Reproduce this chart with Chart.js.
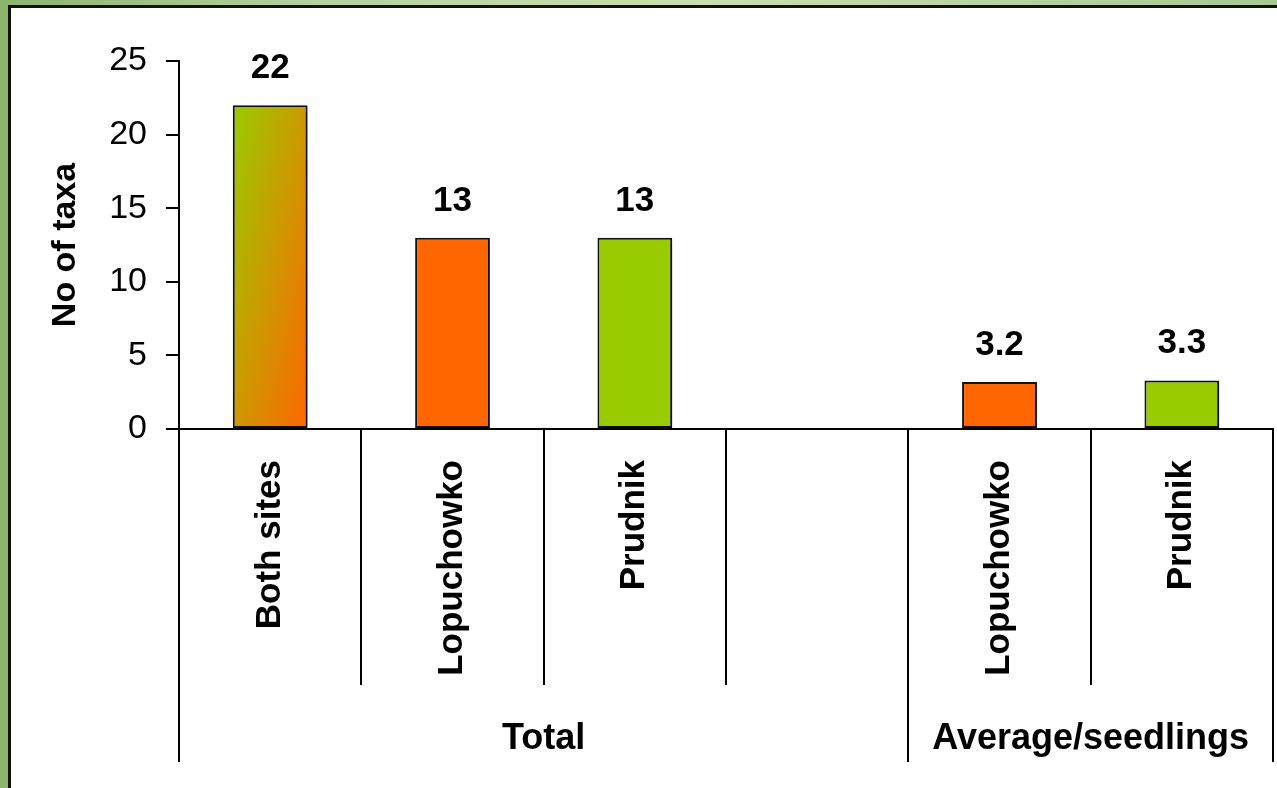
<!DOCTYPE html>
<html>
<head>
<meta charset="utf-8">
<script src="https://cdn.jsdelivr.net/npm/chart.js@4.4.0/dist/chart.umd.min.js"></script>
<style>
    html, body { margin: 0; padding: 0; width: 1277px; height: 788px; overflow: hidden; }
    body { background: linear-gradient(90deg, #8db46c 0%, #b7d29a 25%, #cadfae 55%, #a8c792 100%); position: relative; }
    #panel { position: absolute; left: 8px; top: 5px; width: 1290px; height: 800px; background: #fff;
             border-left: 3px solid #111; border-top: 3px solid #111; }
    #chart { position: absolute; left: 0; top: 0; }
</style>
</head>
<body>
<div id="panel"></div>
<canvas id="chart" width="1277" height="788"></canvas>
<script>
// categories and values
var categories = ['Both sites', 'Lopuchowko', 'Prudnik', '', 'Lopuchowko', 'Prudnik'];
var taxa = [22, 13, 13, null, 3.2, 3.3];
var barColors = ['gradient', '#ff6600', '#99cc00', '#ffffff', '#ff6600', '#99cc00'];
var yTicks = [0, 5, 10, 15, 20, 25];
// group labels under the categories: [first category, last category + 1]
var groupLabels = ['Total', 'Average/seedlings'];
var groupSpans = [[0, 4], [4, 6]];

var FONT = '"Liberation Sans", Arial, sans-serif';

const halfStep = function (xs) {
    return (xs.getPixelForValue(1) - xs.getPixelForValue(0)) / 2;
}

const barFill = function (context) {
    var chart = context.chart;
    var c = barColors[context.dataIndex];
    if (c !== 'gradient') return c;
    var xs = chart.scales.x, ys = chart.scales.y;
    if (!xs || !ys || !chart.chartArea) return '#cc9900';
    var w = halfStep(xs) * 2 * 0.41;
    var x0 = xs.getPixelForValue(context.dataIndex) - w / 2;
    var y0 = ys.getPixelForValue(taxa[context.dataIndex]);
    var h = ys.getPixelForValue(0) - y0;
    // diagonal gradient in box coordinates (green top-left, orange bottom-right)
    var k = (2 * w * h) / (h * h + w * w);
    var g = chart.ctx.createLinearGradient(x0, y0, x0 + h * k, y0 + w * k);
    g.addColorStop(0, '#99cc00');
    g.addColorStop(1, '#ff6600');
    return g;
}

// light drop shadow under the bars, like the original
const barShadow = {
    id: 'barShadow',
    beforeDatasetsDraw: function (chart) {
        var ctx = chart.ctx;
        ctx.save();
        ctx.shadowColor = 'rgba(0,0,0,0.35)';
        ctx.shadowOffsetX = 3;
        ctx.shadowOffsetY = 2;
        ctx.shadowBlur = 1;
    },
    afterDatasetsDraw: function (chart) {
        chart.ctx.restore();
    }
}

// value labels over the bars
const valueLabels = {
    id: 'valueLabels',
    afterDatasetsDraw: function (chart) {
        var ctx = chart.ctx;
        var meta = chart.getDatasetMeta(0);
        ctx.save();
        ctx.font = 'bold 35px ' + FONT;
        ctx.fillStyle = '#000';
        ctx.textAlign = 'center';
        ctx.textBaseline = 'alphabetic';
        meta.data.forEach(function (bar, i) {
            if (taxa[i] == null) return;
            ctx.fillText(String(taxa[i]), bar.x, bar.y - 27);
        });
        ctx.restore();
    }
}

// separator lines between categories and the group captions
const categoryFrames = {
    id: 'categoryFrames',
    afterDraw: function (chart) {
        var ctx = chart.ctx;
        var xs = chart.scales.x;
        var half = halfStep(xs);
        var base = chart.chartArea.bottom;
        var groupEdges = [];
        groupSpans.forEach(function (s) { groupEdges.push(s[0], s[1]); });
        ctx.save();
        ctx.strokeStyle = '#000';
        ctx.lineWidth = 2;
        for (var i = 0; i <= categories.length; i++) {
            var x = Math.round(xs.getPixelForValue(0) - half + i * half * 2);
            var len = groupEdges.indexOf(i) >= 0 ? 333 : 256;
            ctx.beginPath();
            ctx.moveTo(x, base);
            ctx.lineTo(x, base + len);
            ctx.stroke();
        }
        ctx.font = 'bold 36px ' + FONT;
        ctx.fillStyle = '#000';
        ctx.textAlign = 'center';
        ctx.textBaseline = 'alphabetic';
        groupLabels.forEach(function (lab, j) {
            var a = xs.getPixelForValue(groupSpans[j][0]) - half;
            var b = xs.getPixelForValue(groupSpans[j][1] - 1) + half;
            ctx.fillText(lab, (a + b) / 2, base + 320);
        });
        ctx.restore();
    }
}

new Chart(document.getElementById('chart').getContext('2d'), {
    type: 'bar',
    data: {
        labels: categories,
        datasets: [{
            data: taxa,
            backgroundColor: barFill,
            borderColor: '#111',
            borderWidth: 2,
            borderSkipped: false,
            barPercentage: 0.41,
            categoryPercentage: 1.0
        }]
    },
    options: {
        responsive: false,
        animation: false,
        devicePixelRatio: 1,
        layout: { padding: { top: 61, right: 4, bottom: 0, left: 0 } },
        plugins: {
            legend: { display: false },
            tooltip: { enabled: false }
        },
        scales: {
            x: {
                grid: { display: false, drawTicks: false },
                border: { display: true, color: '#000', width: 2 },
                ticks: {
                    autoSkip: false,
                    minRotation: 90,
                    maxRotation: 90,
                    padding: 31,
                    color: '#000',
                    font: { family: FONT, size: 35, weight: 'bold' }
                },
                afterFit: function (scale) { scale.height = 359; }
            },
            y: {
                min: 0,
                max: 25,
                afterBuildTicks: function (scale) {
                    scale.ticks = yTicks.map(function (v) { return { value: v }; });
                },
                grid: { drawOnChartArea: false, tickLength: 13, color: '#000', lineWidth: 2 },
                border: { display: true, color: '#000', width: 2 },
                ticks: {
                    padding: 19,
                    color: '#000',
                    font: { family: FONT, size: 34 }
                },
                title: {
                    display: true,
                    text: 'No of taxa',
                    color: '#000',
                    font: { family: FONT, size: 34, weight: 'bold' },
                    padding: { top: 45, bottom: 0 }
                },
                afterFit: function (scale) { scale.width = 179; }
            }
        }
    },
    plugins: [barShadow, valueLabels, categoryFrames]
});
</script>
</body>
</html>
